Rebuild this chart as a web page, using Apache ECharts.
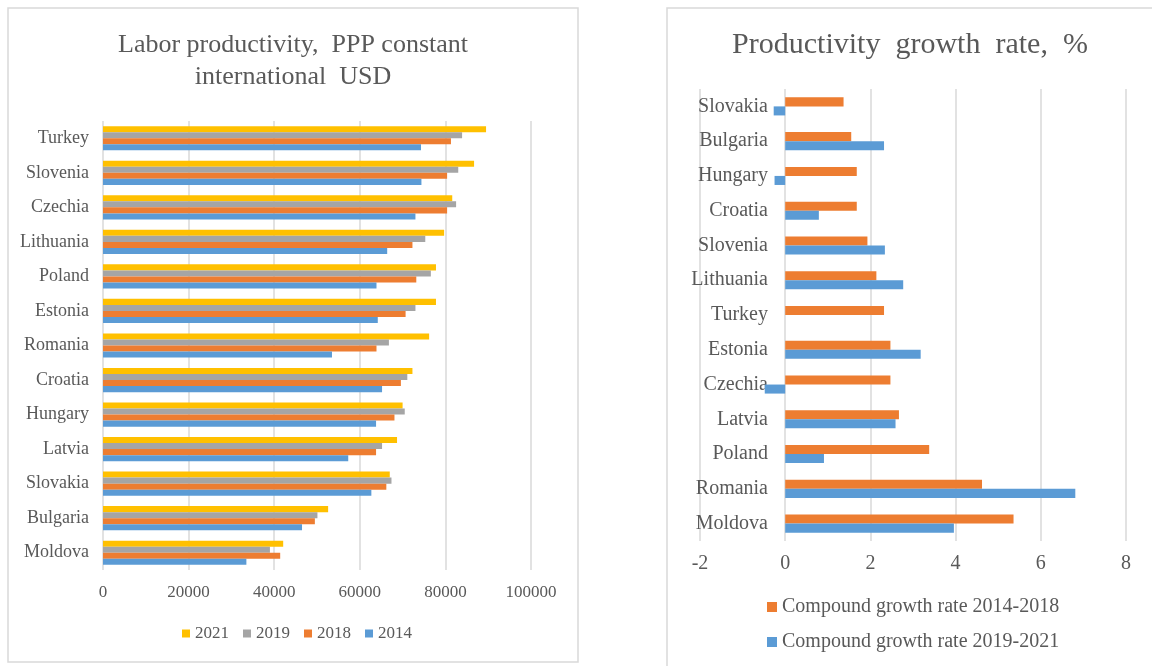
<!DOCTYPE html>
<html>
<head>
<meta charset="utf-8">
<script src="https://cdn.jsdelivr.net/npm/echarts@6/dist/echarts.min.js"></script>
<style>
  html, body { margin: 0; padding: 0; background: #fff; }
  #chart { width: 1152px; height: 666px; }
</style>
</head>
<body>
<div id="chart"></div>
<script>
// left chart: labor productivity (categories listed bottom -> top)
const prodCountries = ['Moldova', 'Bulgaria', 'Slovakia', 'Latvia', 'Hungary', 'Croatia', 'Romania',
  'Estonia', 'Poland', 'Lithuania', 'Czechia', 'Slovenia', 'Turkey']
const prod2021 = [42100, 52600, 67000, 68700, 70000, 72300, 76200, 77800, 77800, 79700, 81600, 86700, 89500]
const prod2019 = [39000, 50100, 67400, 65200, 70500, 71100, 66800, 73000, 76600, 75300, 82500, 83000, 83900]
const prod2018 = [41400, 49500, 66200, 63800, 68100, 69600, 63900, 70700, 73200, 72300, 80400, 80400, 81300]
const prod2014 = [33500, 46500, 62700, 57300, 63800, 65200, 53500, 64200, 63900, 66400, 73000, 74400, 74300]

// right chart: growth rate, % (bottom -> top)
const growthCountries = ['Moldova', 'Romania', 'Poland', 'Latvia', 'Czechia', 'Estonia', 'Turkey',
  'Lithuania', 'Slovenia', 'Croatia', 'Hungary', 'Bulgaria', 'Slovakia']
const growth1418 = [5.36, 4.62, 3.38, 2.67, 2.47, 2.47, 2.32, 2.14, 1.93, 1.68, 1.68, 1.55, 1.37]
const growth1921 = [3.96, 6.81, 0.91, 2.59, -0.48, 3.18, null, 2.77, 2.34, 0.79, -0.25, 2.32, -0.27]

const FONT = '"Liberation Serif", "DejaVu Serif", serif'
const TXT = '#595959'
const GRID = '#d9d9d9'

const chart = echarts.init(document.getElementById('chart'))

const barSeries = (name, data, color, xi, yi, gap) => ({
  name,
  type: 'bar',
  xAxisIndex: xi,
  yAxisIndex: yi,
  data,
  barGap: '0%',
  barCategoryGap: gap,
  itemStyle: { color },
  emphasis: { disabled: true }
})

const option = {
  backgroundColor: '#fff',
  animation: false,
  graphic: [
    { type: 'rect', shape: { x: 8, y: 8, width: 570, height: 654 },
      style: { fill: 'none', stroke: GRID, lineWidth: 1.5 }, silent: true },
    { type: 'rect', shape: { x: 667, y: 8, width: 600, height: 700 },
      style: { fill: 'none', stroke: GRID, lineWidth: 1.5 }, silent: true }
  ],
  title: [
    {
      text: 'Labor productivity,  PPP constant\ninternational  USD',
      left: 293, top: 29, textAlign: 'center', padding: 0,
      textStyle: { fontFamily: FONT, fontSize: 26, fontWeight: 'normal', color: TXT, lineHeight: 32 }
    },
    {
      text: 'Productivity  growth  rate,  %',
      left: 910, top: 29, textAlign: 'center', padding: 0,
      textStyle: { fontFamily: FONT, fontSize: 30, fontWeight: 'normal', color: TXT, lineHeight: 32 }
    }
  ],
  legend: [
    {
      data: ['2021', '2019', '2018', '2014'],
      left: 182, top: 625, padding: 0,
      icon: 'rect', itemWidth: 8, itemHeight: 8, itemGap: 14,
      textStyle: { fontFamily: FONT, fontSize: 17, color: TXT }
    },
    {
      data: ['Compound growth rate 2014-2018', 'Compound growth rate 2019-2021'],
      orient: 'vertical',
      left: 767, top: 597, padding: 0,
      icon: 'rect', itemWidth: 10, itemHeight: 10, itemGap: 15,
      textStyle: { fontFamily: FONT, fontSize: 20, color: TXT }
    }
  ],
  grid: [
    { left: 103, top: 121, width: 428, height: 449 },
    { left: 700, top: 89, width: 426, height: 452 }
  ],
  xAxis: [
    {
      type: 'value', gridIndex: 0, min: 0, max: 100000, interval: 20000,
      axisLine: { show: false }, axisTick: { show: false },
      axisLabel: { fontFamily: FONT, fontSize: 17, color: TXT, margin: 14, formatter: v => String(v) },
      splitLine: { lineStyle: { color: GRID, width: 1.5 } }
    },
    {
      type: 'value', gridIndex: 1, min: -2, max: 8, interval: 2,
      axisLine: { show: false }, axisTick: { show: false },
      axisLabel: { fontFamily: FONT, fontSize: 20, color: TXT, margin: 13 },
      splitLine: { lineStyle: { color: GRID, width: 1.5 } }
    }
  ],
  yAxis: [
    {
      type: 'category', gridIndex: 0, data: prodCountries,
      axisLine: { show: false }, axisTick: { show: false },
      axisLabel: { fontFamily: FONT, fontSize: 18, color: TXT, margin: 14 }
    },
    {
      // labels sit next to the zero line, as in the source chart
      type: 'category', gridIndex: 1, data: growthCountries, offset: -85,
      axisLine: { show: false, onZero: false }, axisTick: { show: false },
      axisLabel: { fontFamily: FONT, fontSize: 20, color: TXT, margin: 17 }
    }
  ],
  series: [
    barSeries('2021', prod2021, '#FFC000', 0, 0, '30%'),
    barSeries('2019', prod2019, '#A5A5A5', 0, 0, '30%'),
    barSeries('2018', prod2018, '#ED7D31', 0, 0, '30%'),
    barSeries('2014', prod2014, '#5B9BD5', 0, 0, '30%'),
    barSeries('Compound growth rate 2014-2018', growth1418, '#ED7D31', 1, 1, '48%'),
    barSeries('Compound growth rate 2019-2021', growth1921, '#5B9BD5', 1, 1, '48%')
  ]
}

chart.setOption(option)
</script>
</body>
</html>
